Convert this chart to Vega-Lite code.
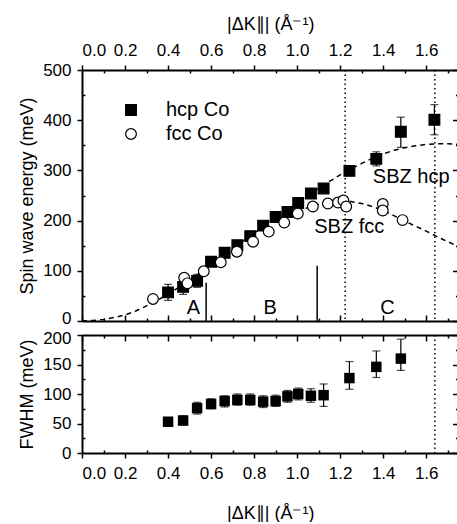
{
  "$schema": "https://vega.github.io/schema/vega-lite/v6.json",
  "padding": {"left": 18, "top": 15, "right": 0, "bottom": 0},
  "bounds": "flush",
  "config": {
    "font": "Liberation Sans",
    "view": {"stroke": null},
    "axis": {
      "labelFont": "Liberation Sans", "titleFont": "Liberation Sans",
      "labelColor": "black", "titleColor": "black",
      "domainColor": "black", "domainWidth": 2,
      "tickColor": "black", "tickWidth": 1.5,
      "grid": false, "titleFontWeight": "normal",
      "labelFontSize": 17, "titleFontSize": 18, "labelPadding": 7
    }
  },
  "datasets": {
    "curves": [
      {"series": "hcp", "k": 0, "E": 0}, {"series": "hcp", "k": 0.05, "E": 1}, {"series": "hcp", "k": 0.1, "E": 3},
      {"series": "hcp", "k": 0.15, "E": 7}, {"series": "hcp", "k": 0.2, "E": 12}, {"series": "hcp", "k": 0.25, "E": 20},
      {"series": "hcp", "k": 0.3, "E": 30}, {"series": "hcp", "k": 0.35, "E": 41}, {"series": "hcp", "k": 0.4, "E": 54},
      {"series": "hcp", "k": 0.45, "E": 67}, {"series": "hcp", "k": 0.5, "E": 81}, {"series": "hcp", "k": 0.55, "E": 96},
      {"series": "hcp", "k": 0.6, "E": 112}, {"series": "hcp", "k": 0.65, "E": 128}, {"series": "hcp", "k": 0.7, "E": 144},
      {"series": "hcp", "k": 0.75, "E": 160}, {"series": "hcp", "k": 0.8, "E": 175}, {"series": "hcp", "k": 0.85, "E": 190},
      {"series": "hcp", "k": 0.9, "E": 205}, {"series": "hcp", "k": 0.95, "E": 220}, {"series": "hcp", "k": 1.0, "E": 235},
      {"series": "hcp", "k": 1.05, "E": 250}, {"series": "hcp", "k": 1.1, "E": 264}, {"series": "hcp", "k": 1.15, "E": 278},
      {"series": "hcp", "k": 1.2, "E": 291}, {"series": "hcp", "k": 1.25, "E": 303}, {"series": "hcp", "k": 1.3, "E": 314},
      {"series": "hcp", "k": 1.35, "E": 324}, {"series": "hcp", "k": 1.4, "E": 333}, {"series": "hcp", "k": 1.45, "E": 340},
      {"series": "hcp", "k": 1.5, "E": 345}, {"series": "hcp", "k": 1.55, "E": 349}, {"series": "hcp", "k": 1.6, "E": 352},
      {"series": "hcp", "k": 1.65, "E": 353}, {"series": "hcp", "k": 1.7, "E": 353}, {"series": "hcp", "k": 1.75, "E": 352},
      {"series": "fcc", "k": 1.0, "E": 218}, {"series": "fcc", "k": 1.05, "E": 226}, {"series": "fcc", "k": 1.1, "E": 232},
      {"series": "fcc", "k": 1.15, "E": 237}, {"series": "fcc", "k": 1.2, "E": 239}, {"series": "fcc", "k": 1.25, "E": 238},
      {"series": "fcc", "k": 1.3, "E": 234}, {"series": "fcc", "k": 1.35, "E": 228}, {"series": "fcc", "k": 1.4, "E": 220},
      {"series": "fcc", "k": 1.45, "E": 210}, {"series": "fcc", "k": 1.5, "E": 199}, {"series": "fcc", "k": 1.55, "E": 189},
      {"series": "fcc", "k": 1.6, "E": 179}, {"series": "fcc", "k": 1.65, "E": 168}, {"series": "fcc", "k": 1.7, "E": 158},
      {"series": "fcc", "k": 1.75, "E": 148}
    ],
    "energy": [
      {"series": "hcp Co", "k": 0.40, "E": 57}, {"series": "hcp Co", "k": 0.47, "E": 68}, {"series": "hcp Co", "k": 0.535, "E": 80},
      {"series": "hcp Co", "k": 0.60, "E": 118}, {"series": "hcp Co", "k": 0.663, "E": 136}, {"series": "hcp Co", "k": 0.722, "E": 151},
      {"series": "hcp Co", "k": 0.782, "E": 169}, {"series": "hcp Co", "k": 0.842, "E": 190}, {"series": "hcp Co", "k": 0.90, "E": 207},
      {"series": "hcp Co", "k": 0.955, "E": 217}, {"series": "hcp Co", "k": 1.005, "E": 235}, {"series": "hcp Co", "k": 1.064, "E": 254},
      {"series": "hcp Co", "k": 1.123, "E": 264}, {"series": "hcp Co", "k": 1.243, "E": 299}, {"series": "hcp Co", "k": 1.368, "E": 323},
      {"series": "hcp Co", "k": 1.482, "E": 377}, {"series": "hcp Co", "k": 1.638, "E": 401},
      {"series": "fcc Co", "k": 0.33, "E": 44}, {"series": "fcc Co", "k": 0.475, "E": 86}, {"series": "fcc Co", "k": 0.49, "E": 75},
      {"series": "fcc Co", "k": 0.566, "E": 99}, {"series": "fcc Co", "k": 0.645, "E": 117}, {"series": "fcc Co", "k": 0.72, "E": 138},
      {"series": "fcc Co", "k": 0.795, "E": 158}, {"series": "fcc Co", "k": 0.868, "E": 178}, {"series": "fcc Co", "k": 0.94, "E": 196},
      {"series": "fcc Co", "k": 1.003, "E": 214}, {"series": "fcc Co", "k": 1.073, "E": 228}, {"series": "fcc Co", "k": 1.143, "E": 234},
      {"series": "fcc Co", "k": 1.19, "E": 236}, {"series": "fcc Co", "k": 1.215, "E": 240}, {"series": "fcc Co", "k": 1.228, "E": 228},
      {"series": "fcc Co", "k": 1.398, "E": 233}, {"series": "fcc Co", "k": 1.398, "E": 220}, {"series": "fcc Co", "k": 1.49, "E": 201}
    ],
    "energyErr": [
      {"k": 0.40, "lo": 41, "hi": 73}, {"k": 0.47, "lo": 53, "hi": 83}, {"k": 0.535, "lo": 67, "hi": 93},
      {"k": 1.368, "lo": 309, "hi": 337}, {"k": 1.482, "lo": 346, "hi": 406}, {"k": 1.638, "lo": 371, "hi": 431}
    ],
    "fwhm": [
      {"k": 0.40, "W": 53, "lo": 46, "hi": 60}, {"k": 0.47, "W": 55, "lo": 48, "hi": 63}, {"k": 0.535, "W": 76, "lo": 66, "hi": 86},
      {"k": 0.60, "W": 83, "lo": 75, "hi": 92}, {"k": 0.663, "W": 88, "lo": 78, "hi": 97}, {"k": 0.722, "W": 90, "lo": 81, "hi": 100},
      {"k": 0.782, "W": 90, "lo": 81, "hi": 100}, {"k": 0.842, "W": 87, "lo": 77, "hi": 97}, {"k": 0.90, "W": 88, "lo": 79, "hi": 98},
      {"k": 0.955, "W": 96, "lo": 86, "hi": 106}, {"k": 1.005, "W": 100, "lo": 90, "hi": 110}, {"k": 1.064, "W": 97, "lo": 86, "hi": 109},
      {"k": 1.123, "W": 98, "lo": 79, "hi": 117}, {"k": 1.243, "W": 127, "lo": 108, "hi": 155}, {"k": 1.368, "W": 146, "lo": 128, "hi": 173},
      {"k": 1.482, "W": 160, "lo": 140, "hi": 193}
    ],
    "dottedUpper": [{"k": 1.223}, {"k": 1.64}],
    "dottedLower": [{"k": 1.64}],
    "solid": [{"k": 0.577, "top": 76}, {"k": 1.093, "top": 110}],
    "labels": [
      {"k": 0.518, "E": 26, "text": "A"}, {"k": 0.875, "E": 26, "text": "B"}, {"k": 1.42, "E": 26, "text": "C"},
      {"k": 1.53, "E": 287, "text": "SBZ hcp"}, {"k": 1.242, "E": 188, "text": "SBZ fcc"}
    ]
  },
  "resolve": {
    "scale": {"x": "independent", "y": "independent", "fill": "independent", "shape": "independent", "stroke": "independent"},
    "legend": {"fill": "independent", "shape": "independent", "stroke": "independent"}
  },
  "spacing": 14,
  "vconcat": [
    {
      "width": 376.5,
      "height": 251,
      "resolve": {"axis": {"x": "independent", "y": "independent"}},
      "layer": [
        {
          "data": {"name": "dottedUpper"},
          "mark": {"type": "rule", "color": "black", "strokeWidth": 1.5, "strokeDash": [1.5, 3]},
          "encoding": {
            "x": {"field": "k", "type": "quantitative", "scale": {"domain": [0, 1.75], "nice": false}, "axis": null}
          }
        },
        {
          "data": {"name": "curves"},
          "mark": {"type": "line", "color": "black", "strokeWidth": 1.5, "strokeDash": [5, 4]},
          "encoding": {
            "x": {"field": "k", "type": "quantitative", "scale": {"domain": [0, 1.75], "nice": false},
              "axis": {
                "orient": "top", "title": "|ΔK∥| (Å⁻¹)", "titlePadding": 8, "labelPadding": 6,
                "values": [0, 0.1, 0.2, 0.3, 0.4, 0.5, 0.6, 0.7, 0.8, 0.9, 1.0, 1.1, 1.2, 1.3, 1.4, 1.5, 1.6, 1.7],
                "labelExpr": "abs(datum.value*5 - round(datum.value*5)) < 0.001 ? format(datum.value, '.1f') : ''",
                "tickSize": {"condition": {"test": "abs(datum.value*5 - round(datum.value*5)) < 0.001", "value": 5}, "value": -3}
              }},
            "y": {"field": "E", "type": "quantitative", "scale": {"domain": [0, 500], "nice": false},
              "axis": {
                "orient": "left", "title": "Spin wave energy (meV)", "titlePadding": 6, "labelFontSize": 17, "labelPadding": 6,
                "values": [0, 50, 100, 150, 200, 250, 300, 350, 400, 450, 500],
                "labelExpr": "datum.value % 100 === 0 ? datum.label : ''",
                "labelOffset": {"condition": {"test": "datum.value === 0", "value": -3}, "value": 0},
                "tickSize": {"condition": {"test": "datum.value % 100 === 0", "value": 5}, "value": -3}
              }},
            "detail": {"field": "series"}
          }
        },
        {
          "data": {"name": "solid"},
          "mark": {"type": "rule", "color": "black", "strokeWidth": 1.5},
          "encoding": {
            "x": {"field": "k", "type": "quantitative", "scale": {"domain": [0, 1.75], "nice": false}, "axis": null},
            "y": {"field": "top", "type": "quantitative", "scale": {"domain": [0, 500], "nice": false}, "axis": null},
            "y2": {"datum": 0}
          }
        },
        {
          "data": {"name": "labels"},
          "mark": {"type": "text", "fontSize": 20, "font": "Liberation Sans", "color": "black", "align": "center", "baseline": "middle"},
          "encoding": {
            "x": {"field": "k", "type": "quantitative", "scale": {"domain": [0, 1.75], "nice": false}, "axis": null},
            "y": {"field": "E", "type": "quantitative", "scale": {"domain": [0, 500], "nice": false}, "axis": null},
            "text": {"field": "text"}
          }
        },
        {
          "data": {"name": "energyErr"},
          "mark": {"type": "rule", "color": "black", "strokeWidth": 1.2},
          "encoding": {
            "x": {"field": "k", "type": "quantitative", "scale": {"domain": [0, 1.75], "nice": false},
              "axis": {
                "orient": "bottom", "title": null, "labels": false,
                "values": [0, 0.1, 0.2, 0.3, 0.4, 0.5, 0.6, 0.7, 0.8, 0.9, 1.0, 1.1, 1.2, 1.3, 1.4, 1.5, 1.6, 1.7],
                "tickSize": {"condition": {"test": "abs(datum.value*5 - round(datum.value*5)) < 0.001", "value": -6}, "value": -3}
              }},
            "y": {"field": "lo", "type": "quantitative", "scale": {"domain": [0, 500], "nice": false},
              "axis": {
                "orient": "right", "title": null, "labels": false,
                "values": [0, 50, 100, 150, 200, 250, 300, 350, 400, 450, 500],
                "tickSize": {"condition": {"test": "datum.value % 100 === 0", "value": -6}, "value": -3}
              }},
            "y2": {"field": "hi"}
          }
        },
        {
          "data": {"name": "energyErr"},
          "mark": {"type": "tick", "orient": "horizontal", "color": "black", "size": 8, "thickness": 1.2},
          "encoding": {
            "x": {"field": "k", "type": "quantitative", "scale": {"domain": [0, 1.75], "nice": false}, "axis": null},
            "y": {"field": "lo", "type": "quantitative", "scale": {"domain": [0, 500], "nice": false}, "axis": null}
          }
        },
        {
          "data": {"name": "energyErr"},
          "mark": {"type": "tick", "orient": "horizontal", "color": "black", "size": 8, "thickness": 1.2},
          "encoding": {
            "x": {"field": "k", "type": "quantitative", "scale": {"domain": [0, 1.75], "nice": false}, "axis": null},
            "y": {"field": "hi", "type": "quantitative", "scale": {"domain": [0, 500], "nice": false}, "axis": null}
          }
        },
        {
          "data": {"name": "energy"},
          "mark": {"type": "point", "filled": true, "strokeWidth": 1.2, "size": 115, "opacity": 1},
          "encoding": {
            "x": {"field": "k", "type": "quantitative", "scale": {"domain": [0, 1.75], "nice": false}, "axis": null},
            "y": {"field": "E", "type": "quantitative", "scale": {"domain": [0, 500], "nice": false}, "axis": null},
            "fill": {"field": "series", "type": "nominal", "scale": {"domain": ["hcp Co", "fcc Co"], "range": ["black", "white"]},
              "legend": {"title": null, "orient": "none", "legendX": 39, "legendY": 30, "labelFontSize": 20, "labelFont": "Liberation Sans",
                "labelColor": "black", "symbolStrokeWidth": 1.2, "symbolSize": 115, "labelOffset": 25, "rowPadding": 4, "padding": 0}},
            "stroke": {"field": "series", "type": "nominal", "scale": {"domain": ["hcp Co", "fcc Co"], "range": ["black", "black"]},
              "legend": {"title": null, "orient": "none", "legendX": 39, "legendY": 30, "labelFontSize": 20, "labelFont": "Liberation Sans",
                "labelColor": "black", "symbolStrokeWidth": 1.2, "symbolSize": 115, "labelOffset": 25, "rowPadding": 4, "padding": 0}},
            "shape": {"field": "series", "type": "nominal", "scale": {"domain": ["hcp Co", "fcc Co"], "range": ["square", "circle"]},
              "legend": {"title": null, "orient": "none", "legendX": 39, "legendY": 30, "labelFontSize": 20, "labelFont": "Liberation Sans",
                "labelColor": "black", "symbolStrokeWidth": 1.2, "symbolSize": 115, "labelOffset": 25, "rowPadding": 4, "padding": 0}}
          }
        }
      ]
    },
    {
      "width": 376.5,
      "height": 118,
      "resolve": {"axis": {"x": "independent", "y": "independent"}},
      "layer": [
        {
          "data": {"name": "dottedLower"},
          "mark": {"type": "rule", "color": "black", "strokeWidth": 1.5, "strokeDash": [1.5, 3]},
          "encoding": {
            "x": {"field": "k", "type": "quantitative", "scale": {"domain": [0, 1.75], "nice": false}, "axis": null}
          }
        },
        {
          "data": {"name": "fwhm"},
          "mark": {"type": "rule", "color": "black", "strokeWidth": 1.2},
          "encoding": {
            "x": {"field": "k", "type": "quantitative", "scale": {"domain": [0, 1.75], "nice": false},
              "axis": {
                "orient": "bottom", "title": "|ΔK∥| (Å⁻¹)", "titlePadding": 23, "labelPadding": 7,
                "values": [0, 0.1, 0.2, 0.3, 0.4, 0.5, 0.6, 0.7, 0.8, 0.9, 1.0, 1.1, 1.2, 1.3, 1.4, 1.5, 1.6, 1.7],
                "labelExpr": "abs(datum.value*5 - round(datum.value*5)) < 0.001 ? format(datum.value, '.1f') : ''",
                "tickSize": {"condition": {"test": "abs(datum.value*5 - round(datum.value*5)) < 0.001", "value": 5}, "value": -3}
              }},
            "y": {"field": "lo", "type": "quantitative", "scale": {"domain": [0, 200], "nice": false},
              "axis": {
                "orient": "left", "title": "FWHM (meV)", "titlePadding": 6, "labelFontSize": 17, "labelPadding": 6,
                "values": [0, 25, 50, 75, 100, 125, 150, 175, 200],
                "labelExpr": "datum.value % 50 === 0 ? datum.label : ''",
                "labelOffset": {"condition": {"test": "datum.value === 200", "value": 3}, "value": 0},
                "tickSize": {"condition": {"test": "datum.value % 50 === 0", "value": 5}, "value": -3}
              }},
            "y2": {"field": "hi"}
          }
        },
        {
          "data": {"name": "fwhm"},
          "mark": {"type": "tick", "orient": "horizontal", "color": "black", "size": 8, "thickness": 1.2},
          "encoding": {
            "x": {"field": "k", "type": "quantitative", "scale": {"domain": [0, 1.75], "nice": false},
              "axis": {
                "orient": "top", "title": null, "labels": false,
                "values": [0, 0.1, 0.2, 0.3, 0.4, 0.5, 0.6, 0.7, 0.8, 0.9, 1.0, 1.1, 1.2, 1.3, 1.4, 1.5, 1.6, 1.7],
                "tickSize": {"condition": {"test": "abs(datum.value*5 - round(datum.value*5)) < 0.001", "value": -6}, "value": -3}
              }},
            "y": {"field": "lo", "type": "quantitative", "scale": {"domain": [0, 200], "nice": false},
              "axis": {
                "orient": "right", "title": null, "labels": false,
                "values": [0, 25, 50, 75, 100, 125, 150, 175, 200],
                "tickSize": {"condition": {"test": "datum.value % 50 === 0", "value": -6}, "value": -3}
              }}
          }
        },
        {
          "data": {"name": "fwhm"},
          "mark": {"type": "tick", "orient": "horizontal", "color": "black", "size": 8, "thickness": 1.2},
          "encoding": {
            "x": {"field": "k", "type": "quantitative", "scale": {"domain": [0, 1.75], "nice": false}, "axis": null},
            "y": {"field": "hi", "type": "quantitative", "scale": {"domain": [0, 200], "nice": false}, "axis": null}
          }
        },
        {
          "data": {"name": "fwhm"},
          "mark": {"type": "point", "shape": "square", "filled": true, "color": "black", "size": 110, "opacity": 1},
          "encoding": {
            "x": {"field": "k", "type": "quantitative", "scale": {"domain": [0, 1.75], "nice": false}, "axis": null},
            "y": {"field": "W", "type": "quantitative", "scale": {"domain": [0, 200], "nice": false}, "axis": null}
          }
        }
      ]
    }
  ]
}
